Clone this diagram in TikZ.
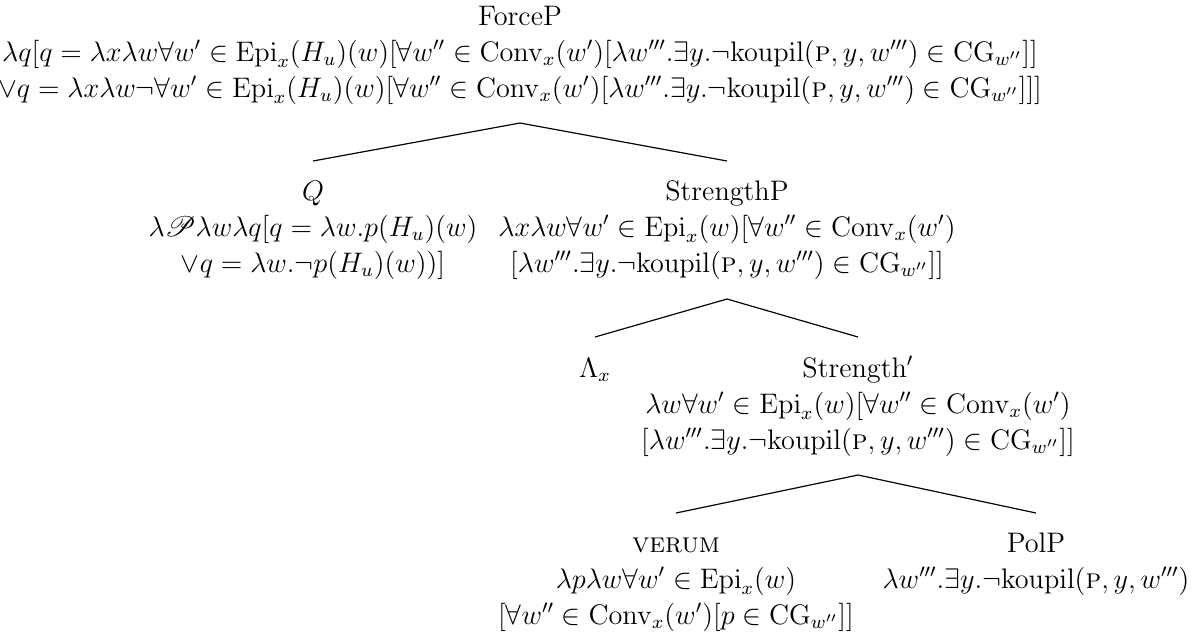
\documentclass[tikz,border=0pt]{standalone}
\usepackage{amsmath,amssymb}
\usepackage{mathrsfs}
\newsavebox\measbox
\newcommand\kp{\mathrm{koupil}(\textsc{p},y,w''')}
\newcommand\rootlinethree{$\vee q=\lambda x\lambda w\neg\forall w'\in\mathrm{Epi}_x(H_u)(w)[\forall w''\in\mathrm{Conv}_x(w')[\lambda w'''.\exists y.\neg\kp\in\mathrm{CG}_{w''}]]]$}
\newcommand\tstrut{\rule{0pt}{0.85em}}
\begin{document}
\begin{tikzpicture}
% unit = one pixel of the reference; the widest line (12pt) is 1028 px wide
\sbox\measbox{\fontsize{12}{14}\selectfont\rootlinethree}
\pgfmathsetmacro\unitpt{\the\wd\measbox/1028}
\pgfmathsetmacro\bskip{36*\unitpt}
\tikzset{
  tnode/.style={inner sep=0pt, outer sep=0pt, align=center, anchor=north,
    yshift=10.2pt, font=\fontsize{12}{\bskip pt}\selectfont},
  branch/.style={draw=black, line width=0.5pt}
}
\begin{scope}[x=\unitpt pt, y=-\unitpt pt]
\useasboundingbox (0,0) rectangle (1204,639);
% level y-coordinates for branch ends
\coordinate (apex1) at (0,123);
\coordinate (end1) at (0,161);
\coordinate (apex2) at (0,299);
\coordinate (end2) at (0,337);
\coordinate (apex3) at (0,475);
\coordinate (end3) at (0,513);

% nodes are placed at the baseline of their first line
\node[tnode] (forcep) at (520,25) {\tstrut ForceP\\
$\lambda q[q=\lambda x\lambda w\forall w'\in\mathrm{Epi}_x(H_u)(w)[\forall w''\in\mathrm{Conv}_x(w')[\lambda w'''.\exists y.\neg\kp\in\mathrm{CG}_{w''}]]$\\
\rootlinethree};

\node[tnode] (q) at (313,200) {\tstrut$Q$\\
$\lambda\mathscr{P}\lambda w\lambda q[q=\lambda w.p(H_u)(w)$\\
$\vee q=\lambda w.\neg p(H_u)(w))]$};

\node[tnode] (strengthp) at (727,200) {\tstrut StrengthP\\
$\lambda x\lambda w\forall w'\in\mathrm{Epi}_x(w)[\forall w''\in\mathrm{Conv}_x(w')$\\
$[\lambda w'''.\exists y.\neg\kp\in\mathrm{CG}_{w''}]]$};

\node[tnode] (lambdax) at (595,377) {\tstrut$\Lambda_x$};

\node[tnode] (strengthbar) at (858,377) {\tstrut Strength$'$\\
$\lambda w\forall w'\in\mathrm{Epi}_x(w)[\forall w''\in\mathrm{Conv}_x(w')$\\
$[\lambda w'''.\exists y.\neg\kp\in\mathrm{CG}_{w''}]]$};

\node[tnode] (verum) at (676,552) {\tstrut\textsc{verum}\\
$\lambda p\lambda w\forall w'\in\mathrm{Epi}_x(w)$\\
$[\forall w''\in\mathrm{Conv}_x(w')[p\in\mathrm{CG}_{w''}]]$};

\node[tnode] (polp) at (1036,552) {\tstrut PolP\\
$\lambda w'''.\exists y.\neg\kp$};

\draw[branch] (q.north |- end1) -- (forcep.south |- apex1) -- (strengthp.north |- end1);
\draw[branch] (lambdax.north |- end2) -- (strengthp.south |- apex2) -- (strengthbar.north |- end2);
\draw[branch] (verum.north |- end3) -- (strengthbar.south |- apex3) -- (polp.north |- end3);
\end{scope}
\end{tikzpicture}
\end{document}
